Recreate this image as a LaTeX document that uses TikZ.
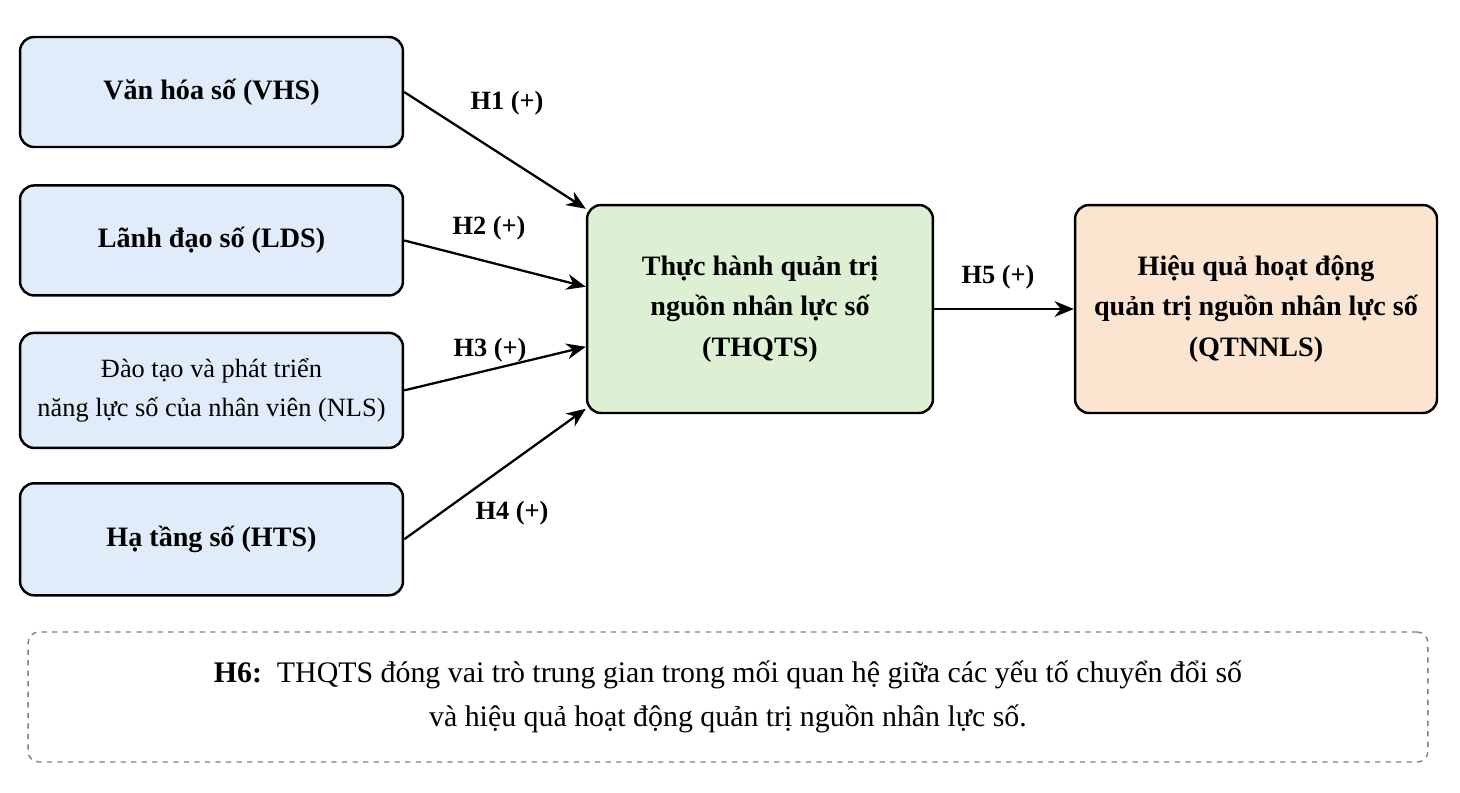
\documentclass[tikz,border=0pt]{standalone}
\usepackage{fontspec}
\setmainfont{Liberation Serif}
\definecolor{myblue}{RGB}{224,236,250}
\definecolor{mygreen}{RGB}{222,240,212}
\definecolor{myorange}{RGB}{251,229,208}
\usetikzlibrary{arrows.meta,positioning,calc}

\begin{document}
\begin{tikzpicture}[
  thick,
  x=0.02cm, y=-0.02cm,
  node distance=0.72cm,
  mybox/.style={
    draw,
    line width=1.4pt,
    rounded corners=8pt,
    fill=#1,
    align=center,
    font=\fontsize{15}{19}\selectfont
    },
  mylabel/.style={font=\fontsize{15}{18}\selectfont\bfseries},
  myarrow/.style={-{Stealth[length=11pt,width=9pt]}, line width=1.3pt}
]
\useasboundingbox (0,0) rectangle (1460,792);

\node[mybox=myblue, minimum width=7.66cm, minimum height=2.2cm, font=\fontsize{16}{19}\selectfont\bfseries] at (211.5,92)
  (vhs) {Văn hóa số (VHS)};
\node[mybox=myblue, minimum width=7.66cm, minimum height=2.2cm, font=\fontsize{16}{19}\selectfont\bfseries] [below=of vhs]
  (lds) {Lãnh đạo số (LDS)};
\node[mybox=myblue, minimum width=7.66cm, minimum height=2.3cm, font=\fontsize{15}{22}\selectfont] [below=0.7cm of lds]
  (nls) {Đào tạo và phát triển\\năng lực số của nhân viên (NLS)};
\node[mybox=myblue, minimum width=7.66cm, minimum height=2.24cm, font=\fontsize{16}{19}\selectfont\bfseries] [below=0.66cm of nls]
  (hts) {Hạ tầng số (HTS)};

\node[mybox=mygreen, minimum width=6.92cm, minimum height=4.16cm,
  font=\fontsize{16}{23}\selectfont\bfseries] at (760,309)
  (thqts) {Thực hành quản trị\\nguồn nhân lực số\\(THQTS)};
\node[mybox=myorange, minimum width=7.24cm, minimum height=4.16cm,
  font=\fontsize{16}{23}\selectfont\bfseries] at (1256,309)
  (qtnnls) {Hiệu quả hoạt động\\quản trị nguồn nhân lực số\\(QTNNLS)};

% arrow ends on the mediator
\coordinate (in1) at ([yshift=-0.1cm]thqts.north west);
\coordinate (in2) at ([yshift=-1.66cm]thqts.north west);
\coordinate (in3) at ([yshift=-2.86cm]thqts.north west);
\coordinate (in4) at ([yshift=-4.1cm]thqts.north west);

\draw[myarrow] (vhs.east) -- (in1);
\draw[myarrow] (lds.east) -- (in2);
\draw[myarrow] (nls.east) -- (in3);
\draw[myarrow] (hts.east) -- (in4);
\draw[myarrow] (thqts.east) -- (qtnnls.west);

\node[mylabel] at (507,103) (h1) {H1 (+)};
\node[mylabel] at (489,228) (h2) {H2 (+)};
\node[mylabel] at (490,350) (h3) {H3 (+)};
\node[mylabel] at (512,513) (h4) {H4 (+)};
\node[mylabel] at (998,277) (h5) {H5 (+)};

\node[draw=gray, dashed, rounded corners=6pt, minimum width=28cm, minimum height=2.6cm,
  align=center, font=\fontsize{17}{25}\selectfont] at (728,697)
  (h6) {\textbf{H6:}\enspace THQTS đóng vai trò trung gian trong mối quan hệ giữa các yếu tố chuyển đổi số\\và hiệu quả hoạt động quản trị nguồn nhân lực số.};
\end{tikzpicture}
\end{document}
